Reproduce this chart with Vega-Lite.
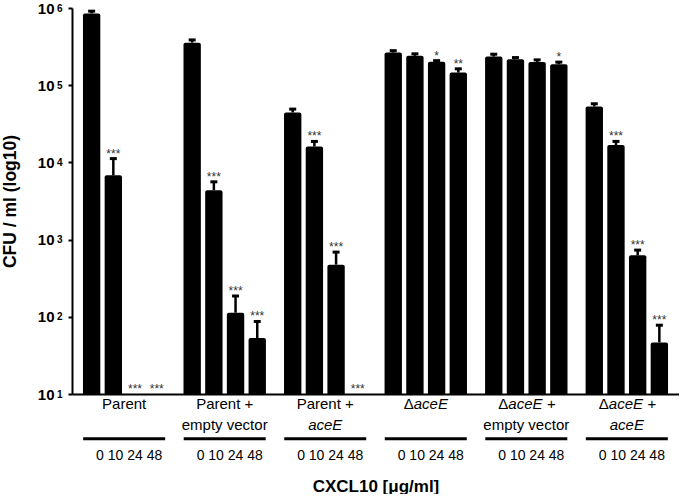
{
  "$schema": "https://vega.github.io/schema/vega-lite/v6.json",
  "background": "white",
  "padding": {"left": 1, "top": 1, "right": 0, "bottom": 0},
  "bounds": "flush",
  "spacing": 0,
  "config": {
    "font": "Liberation Sans",
    "view": {"stroke": null},
    "axis": {"grid": false},
    "tick": {"opacity": 1}
  },
  "datasets": {
    "cfu": [
      {"group": "Parent", "dose": "0", "cfu": 850000, "hi": 910000, "stars": ""},
      {"group": "Parent", "dose": "10", "cfu": 6800, "hi": 11200, "stars": "***"},
      {"group": "Parent", "dose": "24", "cfu": null, "hi": null, "stars": "***"},
      {"group": "Parent", "dose": "48", "cfu": null, "hi": null, "stars": "***"},
      {"group": "Parent + empty vector", "dose": "0", "cfu": 356000, "hi": 386000, "stars": ""},
      {"group": "Parent + empty vector", "dose": "10", "cfu": 4360, "hi": 5600, "stars": "***"},
      {"group": "Parent + empty vector", "dose": "24", "cfu": 113, "hi": 186, "stars": "***"},
      {"group": "Parent + empty vector", "dose": "48", "cfu": 53, "hi": 87, "stars": "***"},
      {"group": "Parent + aceE", "dose": "0", "cfu": 44400, "hi": 49000, "stars": ""},
      {"group": "Parent + aceE", "dose": "10", "cfu": 16100, "hi": 18700, "stars": "***"},
      {"group": "Parent + aceE", "dose": "24", "cfu": 474, "hi": 689, "stars": "***"},
      {"group": "Parent + aceE", "dose": "48", "cfu": null, "hi": null, "stars": "***"},
      {"group": "ΔaceE", "dose": "0", "cfu": 265000, "hi": 280000, "stars": ""},
      {"group": "ΔaceE", "dose": "10", "cfu": 240000, "hi": 255000, "stars": ""},
      {"group": "ΔaceE", "dose": "24", "cfu": 202000, "hi": 208000, "stars": "*"},
      {"group": "ΔaceE", "dose": "48", "cfu": 146000, "hi": 163000, "stars": "**"},
      {"group": "ΔaceE + empty vector", "dose": "0", "cfu": 235000, "hi": 252000, "stars": ""},
      {"group": "ΔaceE + empty vector", "dose": "10", "cfu": 217000, "hi": 228000, "stars": ""},
      {"group": "ΔaceE + empty vector", "dose": "24", "cfu": 200000, "hi": 213000, "stars": ""},
      {"group": "ΔaceE + empty vector", "dose": "48", "cfu": 187000, "hi": 199000, "stars": "*"},
      {"group": "ΔaceE + aceE", "dose": "0", "cfu": 53000, "hi": 57500, "stars": ""},
      {"group": "ΔaceE + aceE", "dose": "10", "cfu": 16800, "hi": 18700, "stars": "***"},
      {"group": "ΔaceE + aceE", "dose": "24", "cfu": 625, "hi": 731, "stars": "***"},
      {"group": "ΔaceE + aceE", "dose": "48", "cfu": 46.6, "hi": 77.8, "stars": "***"}
    ],
    "labels": [
      {"group": "Parent", "row": "l1", "text": "Parent"},
      {"group": "Parent + empty vector", "row": "l1", "text": "Parent +"},
      {"group": "Parent + empty vector", "row": "l2", "text": "empty vector"},
      {"group": "Parent + aceE", "row": "l1", "text": "Parent +"},
      {"group": "Parent + aceE", "row": "l2", "text": "aceE"},
      {"group": "ΔaceE", "row": "l1", "text": "ΔaceE"},
      {"group": "ΔaceE + empty vector", "row": "l1", "text": "ΔaceE +"},
      {"group": "ΔaceE + empty vector", "row": "l2", "text": "empty vector"},
      {"group": "ΔaceE + aceE", "row": "l1", "text": "ΔaceE +"},
      {"group": "ΔaceE + aceE", "row": "l2", "text": "aceE"},
      {"group": "Parent", "row": "rule", "text": ""},
      {"group": "Parent + empty vector", "row": "rule", "text": ""},
      {"group": "Parent + aceE", "row": "rule", "text": ""},
      {"group": "ΔaceE", "row": "rule", "text": ""},
      {"group": "ΔaceE + empty vector", "row": "rule", "text": ""},
      {"group": "ΔaceE + aceE", "row": "rule", "text": ""},
      {"group": "Parent", "row": "dose", "text": "0 10 24 48"},
      {"group": "Parent + empty vector", "row": "dose", "text": "0 10 24 48"},
      {"group": "Parent + aceE", "row": "dose", "text": "0 10 24 48"},
      {"group": "ΔaceE", "row": "dose", "text": "0 10 24 48"},
      {"group": "ΔaceE + empty vector", "row": "dose", "text": "0 10 24 48"},
      {"group": "ΔaceE + aceE", "row": "dose", "text": "0 10 24 48"}
    ]
  },
  "vconcat": [
    {
      "width": 607,
      "height": 386,
      "data": {"name": "cfu"},
      "resolve": {"axis": {"y": "independent"}},
      "encoding": {
        "x": {
          "field": "group", "type": "nominal",
          "scale": {"domain": ["Parent", "Parent + empty vector", "Parent + aceE", "ΔaceE", "ΔaceE + empty vector", "ΔaceE + aceE"], "paddingInner": 0.137, "paddingOuter": 0.0875},
          "axis": {"title": null, "labels": false, "ticks": false, "domainColor": "black", "domainWidth": 2}
        },
        "xOffset": {
          "field": "dose", "type": "nominal",
          "scale": {"domain": ["0", "10", "24", "48"], "paddingInner": 0.2, "paddingOuter": 0.1}
        }
      },
      "layer": [
        {
          "mark": {"type": "bar", "color": "black", "cornerRadiusTopLeft": 2, "cornerRadiusTopRight": 2},
          "encoding": {
            "y": {
              "field": "cfu", "type": "quantitative",
              "scale": {"type": "log", "domain": [10, 1000000], "nice": false},
              "axis": {
                "orient": "left",
                "title": "CFU / ml (log10)",
                "titleFontSize": 17.5, "titleFontWeight": "bold", "titleColor": "black", "titlePadding": 18,
                "values": [10, 100, 1000, 10000, 100000, 1000000],
                "labelExpr": "'10'",
                "labelFontSize": 15, "labelFontWeight": "bold", "labelColor": "black", "labelPadding": 14,
                "tickColor": "black", "tickWidth": 2, "tickSize": 4,
                "domainColor": "black", "domainWidth": 2
              }
            },
            "y2": {"datum": 10}
          }
        },
        {
          "mark": {"type": "rule", "color": "black", "strokeWidth": 2.5},
          "encoding": {
            "y": {
              "field": "cfu", "type": "quantitative",
              "axis": {
                "orient": "left",
                "title": null,
                "values": [10, 100, 1000, 10000, 100000, 1000000],
                "labelExpr": "'' + round(log(datum.value)/LN10)",
                "labelFontSize": 10, "labelFontWeight": "bold", "labelColor": "black",
                "labelPadding": 10, "labelDy": -4,
                "ticks": false, "tickSize": 0, "domain": false
              }
            },
            "y2": {"field": "hi"}
          }
        },
        {
          "mark": {"type": "tick", "orient": "horizontal", "color": "black", "size": 7, "thickness": 3},
          "encoding": {
            "y": {"field": "hi", "type": "quantitative", "axis": null}
          }
        },
        {
          "transform": [
            {"filter": "datum.stars != ''"},
            {"calculate": "datum.hi != null ? datum.hi : 10", "as": "star_at"}
          ],
          "mark": {"type": "text", "baseline": "alphabetic", "fontSize": 12, "color": "#333333", "dy": -1},
          "encoding": {
            "y": {"field": "star_at", "type": "quantitative", "axis": null},
            "text": {"field": "stars"}
          }
        }
      ]
    },
    {
      "width": 607,
      "height": 72,
      "data": {"name": "labels"},
      "encoding": {
        "x": {
          "field": "group", "type": "nominal",
          "scale": {"domain": ["Parent", "Parent + empty vector", "Parent + aceE", "ΔaceE", "ΔaceE + empty vector", "ΔaceE + aceE"], "paddingInner": 0.137, "paddingOuter": 0.0875},
          "axis": {"title": "CXCL10 [μg/ml]", "labels": false, "ticks": false, "domain": false, "titleFontSize": 17, "titleFontWeight": "bold", "titleColor": "black", "titlePadding": 12}
        },
        "y": {
          "field": "row", "type": "nominal",
          "scale": {"type": "point", "domain": ["l1", "l2", "rule", "dose"], "padding": 0.58},
          "axis": null
        }
      },
      "layer": [
        {
          "transform": [{"filter": "datum.row == 'l1' && indexof(datum.text, 'aceE') < 0"}],
          "mark": {"type": "text", "fontSize": 15, "color": "black"},
          "encoding": {"text": {"field": "text"}}
        },
        {
          "transform": [{"filter": "datum.row == 'l2' && indexof(datum.text, 'aceE') < 0"}],
          "mark": {"type": "text", "fontSize": 15, "color": "black", "dy": 4},
          "encoding": {"text": {"field": "text"}}
        },
        {
          "transform": [{"filter": "datum.row == 'l2' && indexof(datum.text, 'aceE') >= 0"}],
          "mark": {"type": "text", "fontSize": 15, "fontStyle": "italic", "color": "black", "dy": 4},
          "encoding": {"text": {"field": "text"}}
        },
        {
          "transform": [
            {"filter": "datum.row == 'l1' && datum.text == 'ΔaceE'"},
            {"calculate": "substring(datum.text, 1)", "as": "rest"}
          ],
          "mark": {"type": "text", "fontSize": 15, "fontStyle": "italic", "color": "black", "align": "left", "dx": -12},
          "encoding": {"text": {"field": "rest"}}
        },
        {
          "transform": [{"filter": "datum.row == 'l1' && datum.text == 'ΔaceE'"}],
          "mark": {"type": "text", "fontSize": 15, "color": "black", "align": "right", "dx": -12},
          "encoding": {"text": {"value": "Δ"}}
        },
        {
          "transform": [
            {"filter": "datum.row == 'l1' && datum.text == 'ΔaceE +'"},
            {"calculate": "substring(datum.text, 1)", "as": "rest"}
          ],
          "mark": {"type": "text", "fontSize": 15, "fontStyle": "italic", "color": "black", "align": "left", "dx": -18},
          "encoding": {"text": {"field": "rest"}}
        },
        {
          "transform": [{"filter": "datum.row == 'l1' && datum.text == 'ΔaceE +'"}],
          "mark": {"type": "text", "fontSize": 15, "color": "black", "align": "right", "dx": -18},
          "encoding": {"text": {"value": "Δ"}}
        },
        {
          "transform": [{"filter": "datum.row == 'rule'"}],
          "mark": {"type": "tick", "orient": "horizontal", "size": 82, "thickness": 3, "color": "black"}
        },
        {
          "transform": [{"filter": "datum.row == 'dose'"}],
          "mark": {"type": "text", "fontSize": 14, "color": "black", "dx": 5},
          "encoding": {"text": {"field": "text"}}
        }
      ]
    }
  ]
}
